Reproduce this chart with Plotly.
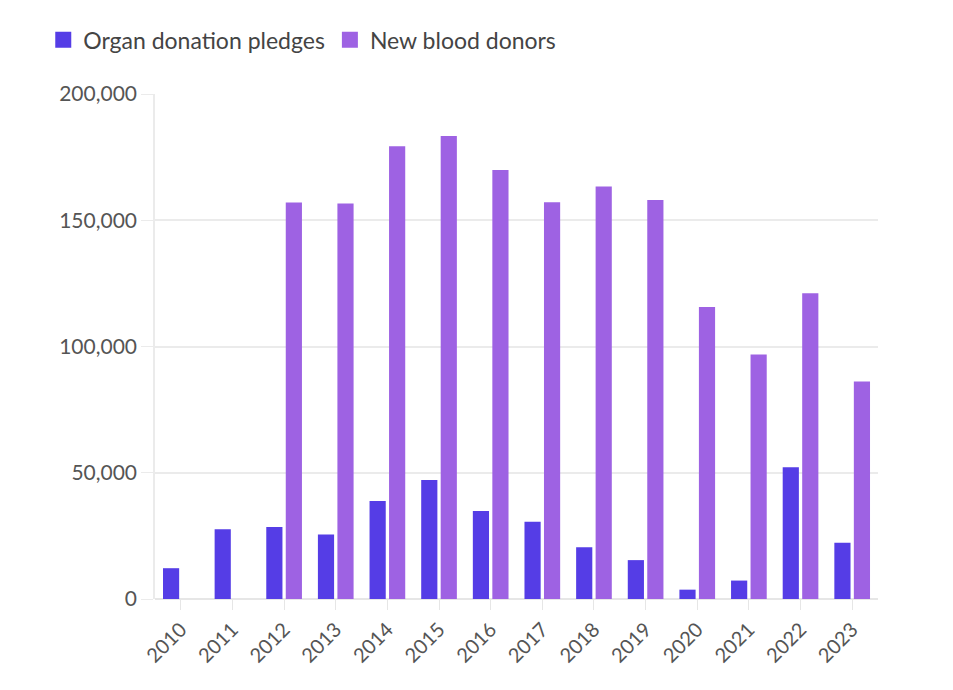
import plotly.graph_objects as go

years = ["2010", "2011", "2012", "2013", "2014", "2015", "2016",
         "2017", "2018", "2019", "2020", "2021", "2022", "2023"]
organ_pledges = [12200, 27600, 28500, 25500, 38800, 47100, 34900,
                 30600, 20500, 15400, 3700, 7300, 52200, 22300]
blood_donors = [None, None, 157000, 156600, 179300, 183400, 169900,
                157100, 163400, 158000, 115600, 96800, 121100, 86100]
y_ticks = [0, 50000, 100000, 150000, 200000]

FONT = "Lato, 'Noto Sans', sans-serif"
ORGAN_COLOR = "#553DE6"
BLOOD_COLOR = "#9E62E3"

fig = go.Figure()
fig.add_trace(go.Bar(name="Organ donation pledges", x=years, y=organ_pledges,
                     marker=dict(color=ORGAN_COLOR, line=dict(width=0)),
                     showlegend=False, legendgroup="o"))
fig.add_trace(go.Bar(name="New blood donors", x=years, y=blood_donors,
                     marker=dict(color=BLOOD_COLOR, line=dict(width=0)),
                     showlegend=False, legendgroup="b"))
# legend-only entries with larger square symbols
fig.add_trace(go.Scatter(name="Organ donation pledges", x=[None], y=[None],
                         mode="markers", legendgroup="o",
                         marker=dict(symbol="square", size=18, color=ORGAN_COLOR)))
fig.add_trace(go.Scatter(name="New blood donors", x=[None], y=[None],
                         mode="markers", legendgroup="b",
                         marker=dict(symbol="square", size=18, color=BLOOD_COLOR)))

fig.update_layout(
    width=953, height=690,
    margin=dict(l=147, r=83, t=86, b=99),
    paper_bgcolor="white", plot_bgcolor="white",
    barmode="group", bargap=0.245, bargroupgap=0.17,
    font=dict(family=FONT, color="#555555", size=18),
    legend=dict(orientation="h", xref="container", yref="container",
                x=0.037, y=0.985, xanchor="left", yanchor="top",
                font=dict(size=23, color="#444444"), itemwidth=30,
                itemsizing="trace", traceorder="normal"),
    xaxis=dict(type="category", showgrid=False, showline=False,
               ticks="outside", ticklen=10, tickcolor="#e6e6e6",
               tickangle=-45, tickfont=dict(size=20, color="#555555")),
    yaxis=dict(range=[0, 200000], tickvals=y_ticks, tickformat=",",
               showgrid=True, gridcolor="#ebebeb", gridwidth=1.5,
               zeroline=True, zerolinecolor="#e6e6e6", zerolinewidth=1.5,
               showline=True, linecolor="#ebebeb", linewidth=1.5,
               ticks="outside", ticklen=12, tickcolor="#ebebeb",
               tickfont=dict(size=21, color="#555555")),
)

fig.write_html("out.html")
